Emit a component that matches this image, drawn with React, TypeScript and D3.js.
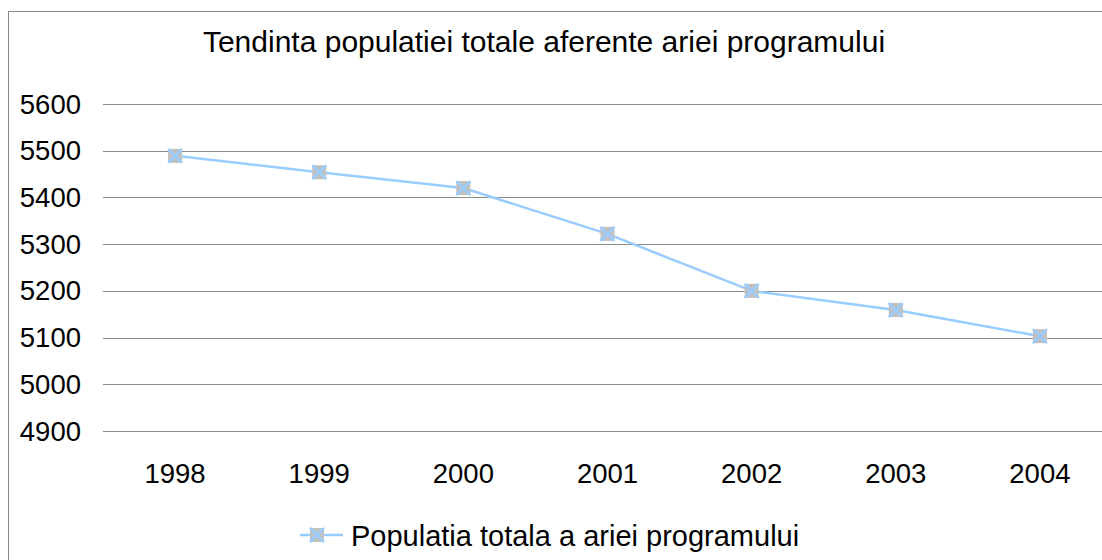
import React from "react";
import * as d3 from "d3";

const years = ["1998", "1999", "2000", "2001", "2002", "2003", "2004"];
const population = [5489, 5454, 5420, 5322, 5200, 5159, 5103];
const yTicks = [4900, 5000, 5100, 5200, 5300, 5400, 5500, 5600];

const title = "Tendinta populatiei totale aferente ariei programului";
const seriesName = "Populatia totala a ariei programului";

const W = 1102, H = 560;
const lineColor = "#99ccff";
const font = "Liberation Sans, Arial, sans-serif";

function Marker({ x, y }: { x: number; y: number }) {
  const s = 7;
  return (
    <g transform={`translate(${x},${y})`}>
      <rect x={-s} y={-s} width={2 * s} height={2 * s} fill="#c0c0c0" />
      <path d={`M${-s},${-s}L${s},${s}M${s},${-s}L${-s},${s}`} stroke={lineColor} strokeWidth={2.5} />
    </g>
  );
}

export default function App() {
  // plot area
  const left = 103, right = 1112, top = 104, bottom = 431;

  const x = d3.scaleBand().domain(years).range([left, right]);
  const y = d3.scaleLinear().domain([4900, 5600]).range([bottom, top]);

  const line = d3.line<number>()
    .x((_, i) => x(years[i])! + x.bandwidth() / 2)
    .y(d => y(d));

  return (
    <svg width={W} height={H} style={{ position: "absolute", left: 0, top: 0 }}>
      <rect x={0} y={0} width={W} height={H} fill="#fff" />
      {/* chart frame */}
      <rect x={8.5} y={11.5} width={W + 20} height={H + 20} fill="none" stroke="#888" strokeWidth={1} />

      <text x={544} y={52} textAnchor="middle" fontFamily={font} fontSize={30} fill="#000">{title}</text>

      {/* gridlines */}
      {yTicks.map(t => (
        <line key={t} x1={left} x2={right} y1={Math.round(y(t)) + 0.5} y2={Math.round(y(t)) + 0.5} stroke="#8c8c8c" strokeWidth={1} />
      ))}

      {/* y tick labels */}
      {yTicks.map(t => (
        <text key={t} x={81} y={y(t) + 9.5} textAnchor="end" fontFamily={font} fontSize={27.5} fill="#000">{t}</text>
      ))}

      {/* x tick labels */}
      {years.map(c => (
        <text key={c} x={x(c)! + x.bandwidth() / 2} y={483} textAnchor="middle" fontFamily={font} fontSize={27.5} fill="#000">{c}</text>
      ))}

      <path d={line(population)!} fill="none" stroke={lineColor} strokeWidth={2.5} />
      {population.map((v, i) => (
        <Marker key={i} x={x(years[i])! + x.bandwidth() / 2} y={y(v)} />
      ))}

      {/* legend */}
      <line x1={300} x2={343} y1={535} y2={535} stroke={lineColor} strokeWidth={2.5} />
      <Marker x={317} y={535} />
      <text x={351} y={546} fontFamily={font} fontSize={29} fill="#000">{seriesName}</text>
    </svg>
  );
}
